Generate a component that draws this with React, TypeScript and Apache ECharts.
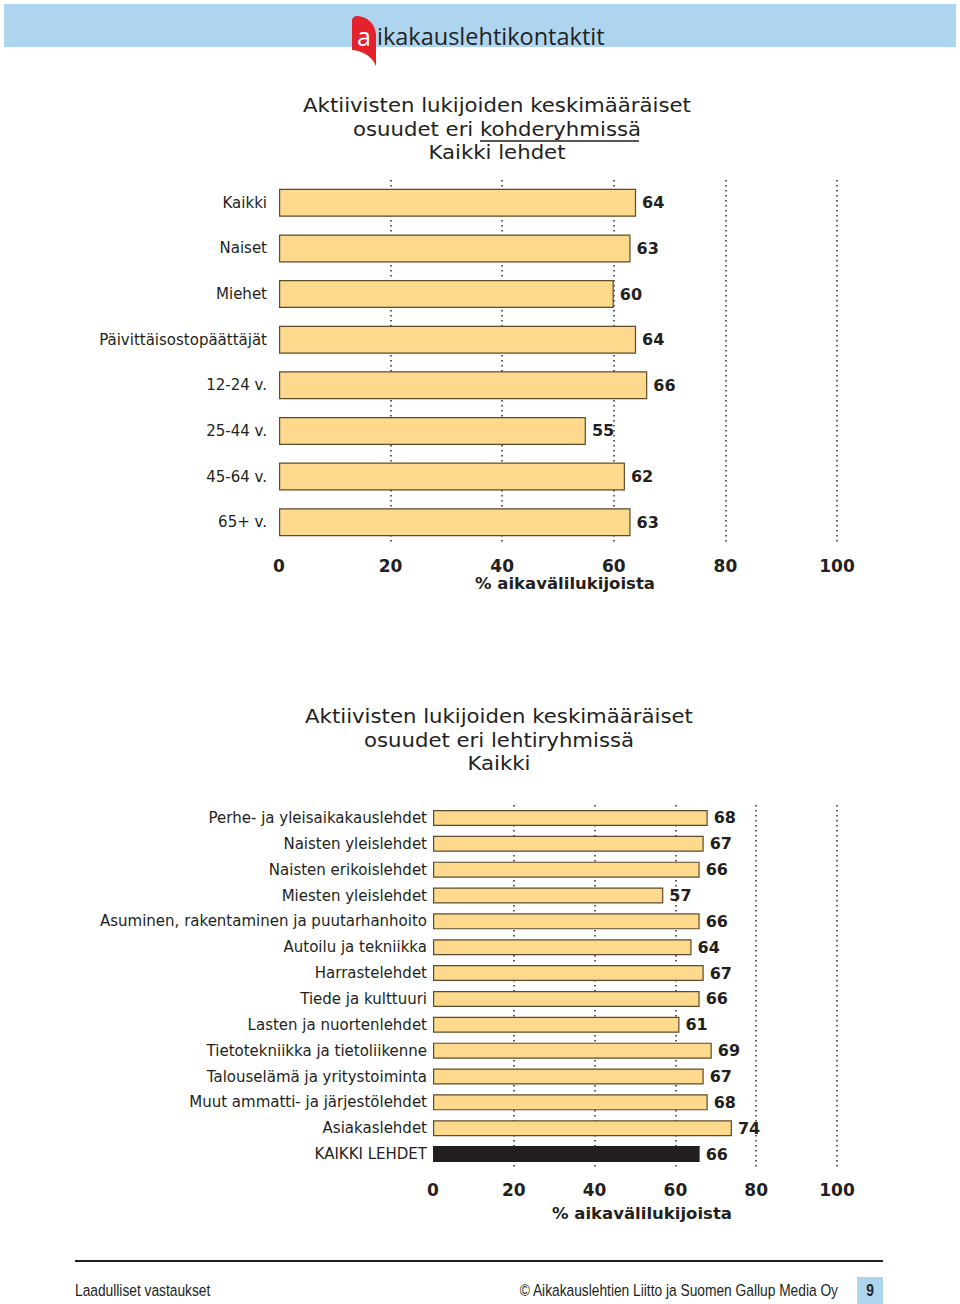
import React, { useEffect, useRef } from "react";
import * as echarts from "echarts";

const topCategories = ["Kaikki", "Naiset", "Miehet", "Päivittäisostopäättäjät", "12-24 v.", "25-44 v.", "45-64 v.", "65+ v."];
const topValues = [64, 63, 60, 64, 66, 55, 62, 63];

const bottomCategories = [
  "Perhe- ja yleisaikakauslehdet",
  "Naisten yleislehdet",
  "Naisten erikoislehdet",
  "Miesten yleislehdet",
  "Asuminen, rakentaminen ja puutarhanhoito",
  "Autoilu ja tekniikka",
  "Harrastelehdet",
  "Tiede ja kulttuuri",
  "Lasten ja nuortenlehdet",
  "Tietotekniikka ja tietoliikenne",
  "Talouselämä ja yritystoiminta",
  "Muut ammatti- ja järjestölehdet",
  "Asiakaslehdet",
  "KAIKKI LEHDET",
];
const bottomValues = [68, 67, 66, 57, 66, 64, 67, 66, 61, 69, 67, 68, 74, 66];
const highlightCategory = "KAIKKI LEHDET";

const axisTicks = [0, 20, 40, 60, 80, 100];
const axisName = "% aikavälilukijoista";
const title1 = ["Aktiivisten lukijoiden keskimääräiset", "osuudet eri kohderyhmissä", "Kaikki lehdet"];
const title2 = ["Aktiivisten lukijoiden keskimääräiset", "osuudet eri lehtiryhmissä", "Kaikki"];

const FONT = '"DejaVu Sans", Verdana, sans-serif';
const FOOT_FONT = '"Liberation Sans", Arial, sans-serif';
const DARK = "#231f20";
const BAR = "#fdd98e";
const BAR_BORDER = "#5e4b2b";
const BLUE = "#aed5f0";

echarts.graphic.registerShape(
  "logoFlag",
  echarts.graphic.extendPath("M0,5 C0,1 3,0 6,0 C16,1 23,8 24,18 L24,50 C20,41 12,35 0,34 Z", {})
);

function makeXAxis(gridIndex: number, margin: number, nameGap: number) {
  return {
    gridIndex,
    type: "value",
    min: axisTicks[0],
    max: axisTicks[axisTicks.length - 1],
    interval: axisTicks[1] - axisTicks[0],
    axisLine: { show: false },
    axisTick: { show: false },
    axisLabel: { fontFamily: FONT, fontWeight: "bold", fontSize: 17, color: DARK, margin },
    splitLine: {
      show: true,
      showMinLine: false,
      lineStyle: { type: [1.5, 3.5], color: "#2a2a2a", width: 1.5 },
    },
    name: axisName,
    nameLocation: "middle",
    nameGap,
    nameTextStyle: { fontFamily: FONT, fontWeight: "bold", fontSize: 16.5, color: DARK, padding: [0, 0, 0, 14] },
  };
}

function makeYAxis(gridIndex: number, data: string[], margin: number) {
  return {
    gridIndex,
    type: "category",
    inverse: true,
    data,
    axisLine: { show: false },
    axisTick: { show: false },
    splitLine: { show: false },
    axisLabel: { fontFamily: FONT, fontSize: 15, color: DARK, margin },
  };
}

function titleText(lines: string[], cx: number, cy: number) {
  return {
    type: "text",
    x: cx,
    y: cy,
    scaleX: 1.09,
    style: {
      text: lines.join("\n"),
      fontFamily: FONT,
      fontSize: 19.5,
      lineHeight: 23.5,
      fill: DARK,
      align: "center",
      verticalAlign: "top",
    },
  };
}

export default function App() {
  const ref = useRef<HTMLDivElement>(null);

  useEffect(() => {
    if (!ref.current) return;
    const chart = echarts.init(ref.current, undefined, { renderer: "svg" });

    const labelStyle = {
      show: true,
      position: "right",
      fontFamily: FONT,
      fontWeight: "bold",
      fontSize: 16,
      color: DARK,
    };

    const option: any = {
      animation: false,
      backgroundColor: "#ffffff",
      grid: [
        { left: 279, top: 180, width: 558, height: 365 },
        { left: 433, top: 805, width: 404, height: 362 },
      ],
      xAxis: [makeXAxis(0, 12, 28), makeXAxis(1, 14, 38)],
      yAxis: [makeYAxis(0, topCategories, 12), makeYAxis(1, bottomCategories, 6)],
      series: [
        {
          type: "bar",
          xAxisIndex: 0,
          yAxisIndex: 0,
          barWidth: 28,
          data: topValues,
          itemStyle: { color: BAR, borderColor: BAR_BORDER, borderWidth: 1.2 },
          label: { ...labelStyle, distance: 6 },
        },
        {
          type: "bar",
          xAxisIndex: 1,
          yAxisIndex: 1,
          barWidth: 16,
          data: bottomValues.map((v, i) =>
            bottomCategories[i] === highlightCategory
              ? { value: v, itemStyle: { color: DARK, borderColor: DARK } }
              : v
          ),
          itemStyle: { color: BAR, borderColor: BAR_BORDER, borderWidth: 1.2 },
          label: { ...labelStyle, distance: 6 },
        },
      ],
      graphic: [
        // header band
        { type: "rect", shape: { x: 4, y: 4, width: 952, height: 43 }, style: { fill: BLUE } },
        { type: "logoFlag", x: 352, y: 16, style: { fill: "#e3222b" } },
        {
          type: "text",
          x: 364,
          y: 36,
          style: { text: "a", fontFamily: '"Open Sans", sans-serif', fontSize: 25, fill: "#ffffff", align: "center", verticalAlign: "middle" },
        },
        {
          type: "text",
          x: 377,
          y: 36,
          style: { text: "ikakauslehtikontaktit", fontFamily: '"Open Sans", sans-serif', fontSize: 23.5, fill: DARK, align: "left", verticalAlign: "middle" },
        },
        // titles
        titleText(title1, 497, 94),
        { type: "line", shape: { x1: 480, y1: 141, x2: 639, y2: 141 }, style: { stroke: DARK, lineWidth: 1.3 } },
        titleText(title2, 499, 705),
        // footer
        { type: "rect", shape: { x: 75, y: 1260, width: 808, height: 2 }, style: { fill: DARK } },
        {
          type: "text",
          x: 75,
          y: 1290,
          scaleX: 0.81,
          style: { text: "Laadulliset vastaukset", fontFamily: FOOT_FONT, fontSize: 17, fill: DARK, align: "left", verticalAlign: "middle" },
        },
        {
          type: "text",
          x: 838,
          y: 1290,
          scaleX: 0.81,
          style: { text: "© Aikakauslehtien Liitto ja Suomen Gallup Media Oy", fontFamily: FOOT_FONT, fontSize: 17, fill: DARK, align: "right", verticalAlign: "middle" },
        },
        { type: "rect", shape: { x: 857, y: 1277, width: 26, height: 27 }, style: { fill: BLUE } },
        {
          type: "text",
          x: 870,
          y: 1290,
          scaleX: 0.81,
          style: { text: "9", fontFamily: FOOT_FONT, fontWeight: "bold", fontSize: 17, fill: DARK, align: "center", verticalAlign: "middle" },
        },
      ],
    };

    chart.setOption(option);
    return () => chart.dispose();
  }, []);

  return (
    <div
      ref={ref}
      style={{ position: "absolute", left: 0, top: 0, width: 960, height: 1304, background: "#fff" }}
    />
  );
}
